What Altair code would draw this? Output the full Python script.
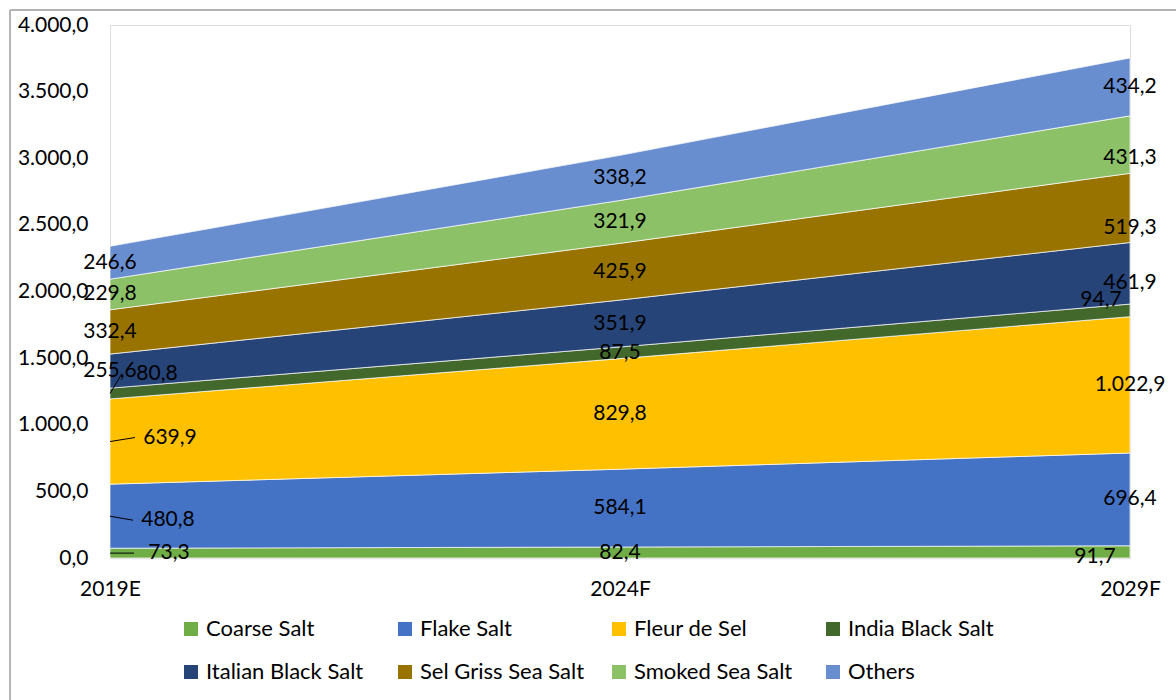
import json
import altair as alt
import pandas as pd

# Categories and series
years = ["2019E", "2024F", "2029F"]
series = [
    "Coarse Salt", "Flake Salt", "Fleur de Sel", "India Black Salt",
    "Italian Black Salt", "Sel Griss Sea Salt", "Smoked Sea Salt", "Others",
]
colors = ["#70AD47", "#4472C4", "#FFC000", "#43682B",
          "#264478", "#997300", "#8CC168", "#698ED0"]

coarse_salt = [73.3, 82.4, 91.7]
flake_salt = [480.8, 584.1, 696.4]
fleur_de_sel = [639.9, 829.8, 1022.9]
india_black_salt = [80.8, 87.5, 94.7]
italian_black_salt = [255.6, 351.9, 461.9]
sel_griss_sea_salt = [332.4, 425.9, 519.3]
smoked_sea_salt = [229.8, 321.9, 431.3]
others = [246.6, 338.2, 434.2]

values = [coarse_salt, flake_salt, fleur_de_sel, india_black_salt,
          italian_black_salt, sel_griss_sea_salt, smoked_sea_salt, others]

y_ticks = [0, 500, 1000, 1500, 2000, 2500, 3000, 3500, 4000]

FONT = "Lato"
FS = 21
W, H = 1020, 533
Y_MAX = 4000
PX_X = W / (len(years) - 1)   # pixels per category step
PX_Y = H / Y_MAX              # pixels per unit

# Hand-placed label nudges in pixels (dx, dy)
nudges = {
    ("2019E", "India Black Salt"): (47, -20),
    ("2019E", "Fleur de Sel"): (60, -4),
    ("2019E", "Flake Salt"): (58, 4),
    ("2019E", "Coarse Salt"): (59, 0),
    ("2029F", "India Black Salt"): (-29, -10),
    ("2029F", "Coarse Salt"): (-35, 5),
    ("2029F", "Smoked Sea Salt"): (0, 13),
    ("2029F", "Sel Griss Sea Salt"): (0, 20),
    ("2029F", "Italian Black Salt"): (0, 10),
}


def de_fmt(v):
    return f"{v:,.1f}".replace(",", "#").replace(".", ",").replace("#", ".")


rows, labels, leaders = [], [], []
for i, yr in enumerate(years):
    base = 0.0
    for k, (name, vals) in enumerate(zip(series, values)):
        v = vals[i]
        rows.append({"idx": i, "year": yr, "series": name, "order": k, "value": v})
        mid = base + v / 2
        dx, dy = nudges.get((yr, name), (0, 0))
        lx = i + dx / PX_X
        ly = mid - dy / PX_Y
        labels.append({"lx": lx, "ly": ly, "text": de_fmt(v)})
        if i == 0 and (yr, name) in nudges:
            leaders.append({"x0": 0, "y0": mid, "x1": (dx - 35) / PX_X, "y1": ly})
        base += v

df = pd.DataFrame(rows)
lab = pd.DataFrame(labels)
lead = pd.DataFrame(leaders)

x_scale = alt.Scale(domain=[0, len(years) - 1], nice=False, zero=False)
y_scale = alt.Scale(domain=[0, Y_MAX], nice=False)

areas = alt.Chart(df).mark_area(stroke="white", strokeWidth=0.7).encode(
    x=alt.X("idx:Q", scale=x_scale, title=None,
            axis=alt.Axis(values=list(range(len(years))),
                          labelExpr=f"{json.dumps(years)}[datum.value]",
                          grid=False, ticks=False, domain=True,
                          domainColor="#D9D9D9", domainWidth=1.5,
                          labelPadding=20, labelFontSize=FS, labelFont=FONT,
                          labelColor="black", labelAlign="center")),
    y=alt.Y("value:Q", stack="zero", scale=y_scale, title=None,
            axis=alt.Axis(values=y_ticks, grid=False, ticks=False, domain=False,
                          labelExpr="replace(replace(replace(format(datum.value, ',.1f'), ',', '#'), '.', ','), '#', '.')",
                          labelPadding=22, labelFontSize=FS, labelFont=FONT,
                          labelColor="black")),
    color=alt.Color("series:N", scale=alt.Scale(domain=series, range=colors),
                    legend=alt.Legend(orient="none", legendX=70, legendY=593,
                                      direction="horizontal", gridAlign="all",
                                      columns=4, title=None, symbolType="square",
                                      symbolSize=196, symbolStrokeWidth=0,
                                      labelFontSize=22, labelFont=FONT,
                                      labelLimit=300,
                                      labelColor="black", labelOffset=4,
                                      columnPadding=23, rowPadding=21, padding=0)),
    order=alt.Order("order:Q"),
)

leader_lines = alt.Chart(lead).mark_rule(color="black", strokeWidth=1).encode(
    x="x0:Q", y="y0:Q", x2="x1:Q", y2="y1:Q"
)

texts = alt.Chart(lab).mark_text(fontSize=FS, font=FONT, color="black",
                                 align="center", baseline="middle").encode(
    x=alt.X("lx:Q", scale=x_scale),
    y=alt.Y("ly:Q", scale=y_scale),
    text="text:N",
)

frame_left = alt.Chart(df).mark_rule(color="#B4B4B4", strokeWidth=1.5).encode(
    x=alt.value(-100), y=alt.value(-15), y2=alt.value(700)
)
frame_top = alt.Chart(df).mark_rule(color="#B4B4B4", strokeWidth=1.5).encode(
    x=alt.value(-100), x2=alt.value(1100), y=alt.value(-15)
)

chart = alt.layer(areas, leader_lines, texts, frame_left, frame_top).properties(
    width=W, height=H,
    padding={"left": 110, "top": 25, "right": 46, "bottom": 142},
    autosize=alt.AutoSizeParams(type="none"),
).configure_view(stroke=None).configure(font=FONT)

chart.save("out.html", embed_options={"renderer": "svg", "actions": False})
